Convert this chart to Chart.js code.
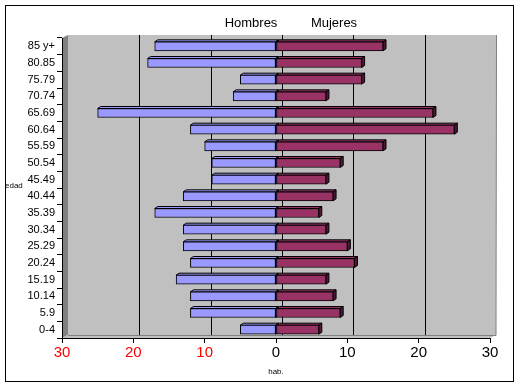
<!DOCTYPE html>
<html>
<head>
<meta charset="utf-8">
<script src="https://cdn.jsdelivr.net/npm/chart.js@4/dist/chart.umd.min.js"></script>
<style>
html,body{margin:0;padding:0;background:#fff;}
#wrap{width:520px;height:386px;position:relative;}
</style>
</head>
<body>
<div id="wrap"><canvas id="c" width="520" height="386"></canvas></div>
<script>
const categories = ["85 y+","80.85","75.79","70.74","65.69","60.64","55.59","50.54","45.49","40.44","35.39","30.34","25.29","20.24","15.19","10.14","5.9","0-4"];
const hombres = [-17,-18,-5,-6,-25,-12,-10,-9,-9,-13,-17,-13,-13,-12,-14,-12,-12,-5];
const mujeres = [15,12,12,7,22,25,15,9,7,8,6,7,10,11,7,8,9,6];
const xTicks = [-30,-20,-10,0,10,20,30];
const seriesNames = ["Hombres","Mujeres"];

const FONT = "'Liberation Sans', Arial, sans-serif";
const WALL_DX = 6, WALL_DY = -3;
const BAR_DX = 3, BAR_DY = -2;

const deco = {
  id:'deco',
  beforeDraw(chart){
    const ctx = chart.ctx, a = chart.chartArea;
    ctx.save();
    ctx.fillStyle = '#fff';
    ctx.fillRect(0,0,chart.width,chart.height);
    // back wall
    ctx.fillStyle = '#C0C0C0';
    ctx.fillRect(a.left+WALL_DX, a.top+WALL_DY, a.right-a.left, a.bottom-a.top);
    // left wall
    ctx.fillStyle = '#808080';
    ctx.beginPath();
    ctx.moveTo(a.left, a.top);
    ctx.lineTo(a.left+WALL_DX, a.top+WALL_DY);
    ctx.lineTo(a.left+WALL_DX, a.bottom+WALL_DY);
    ctx.lineTo(a.left, a.bottom);
    ctx.closePath(); ctx.fill();
    // floor
    ctx.fillStyle = '#C0C0C0';
    ctx.beginPath();
    ctx.moveTo(a.left, a.bottom);
    ctx.lineTo(a.left+WALL_DX, a.bottom+WALL_DY);
    ctx.lineTo(a.right+WALL_DX, a.bottom+WALL_DY);
    ctx.lineTo(a.right, a.bottom);
    ctx.closePath(); ctx.fill();
    ctx.strokeStyle = '#808080'; ctx.lineWidth = 1;
    ctx.beginPath();
    ctx.moveTo(a.left+WALL_DX, a.bottom+WALL_DY+0.5);
    ctx.lineTo(a.right+WALL_DX, a.bottom+WALL_DY+0.5);
    ctx.lineTo(a.right+WALL_DX+0.5, a.top+WALL_DY);
    ctx.stroke();
    // outer border
    ctx.strokeStyle = '#000';
    ctx.strokeRect(5.5,5.5,508,376);
    // legend texts
    ctx.fillStyle = '#000';
    ctx.font = '13px ' + FONT;
    ctx.textAlign = 'center'; ctx.textBaseline = 'middle';
    ctx.fillText(seriesNames[0], 251, 23);
    ctx.fillText(seriesNames[1], 334, 23);
    // y axis title
    ctx.font = '8px ' + FONT;
    ctx.textAlign = 'left';
    ctx.fillText('edad', 5, 186);
    ctx.restore();
  },
  beforeDatasetsDraw(chart){
    const ctx = chart.ctx, a = chart.chartArea, xs = chart.scales.x;
    ctx.save();
    ctx.strokeStyle = '#000'; ctx.lineWidth = 1;
    xTicks.forEach(v=>{
      if (v===-30 || v===30) return;
      const px = Math.round(xs.getPixelForValue(v)) + WALL_DX + 0.5;
      ctx.beginPath();
      ctx.moveTo(px, a.top+WALL_DY);
      ctx.lineTo(px, a.bottom+WALL_DY);
      ctx.stroke();
    });
    // 3D bar faces
    const faces = [
      {top:'#9999FF', side:'#4C4C80'},
      {top:'#993366', side:'#4C1933'}
    ];
    chart.data.datasets.forEach((ds,di)=>{
      const meta = chart.getDatasetMeta(di);
      meta.data.forEach(el=>{
        const l = Math.min(el.x, el.base), r = Math.max(el.x, el.base);
        const t = el.y - el.height/2, b = el.y + el.height/2;
        ctx.fillStyle = faces[di].top;
        ctx.strokeStyle = '#000';
        ctx.beginPath();
        ctx.moveTo(l,t); ctx.lineTo(l+BAR_DX,t+BAR_DY); ctx.lineTo(r+BAR_DX,t+BAR_DY); ctx.lineTo(r,t); ctx.closePath();
        ctx.fill(); ctx.stroke();
        ctx.fillStyle = faces[di].side;
        ctx.beginPath();
        ctx.moveTo(r,t); ctx.lineTo(r+BAR_DX,t+BAR_DY); ctx.lineTo(r+BAR_DX,b+BAR_DY); ctx.lineTo(r,b); ctx.closePath();
        ctx.fill(); ctx.stroke();
      });
    });
    ctx.restore();
  }
};

new Chart(document.getElementById('c'), {
  type:'bar',
  data:{
    labels: categories,
    datasets:[
      {label:seriesNames[0], data:hombres, backgroundColor:'#9999FF', borderColor:'#000', borderWidth:1, barThickness:9, borderSkipped:false},
      {label:seriesNames[1], data:mujeres, backgroundColor:'#993366', borderColor:'#000', borderWidth:1, barThickness:9, borderSkipped:false}
    ]
  },
  options:{
    indexAxis:'y',
    responsive:false,
    animation:false,
    layout:{padding:{top:38, right:30, left:0, bottom:0}},
    plugins:{legend:{display:false}, tooltip:{enabled:false}},
    scales:{
      x:{
        stacked:true, min:-30, max:30,
        afterBuildTicks(s){ s.ticks = xTicks.map(v=>({value:v})); },
        afterFit(s){ s.height = 48; },
        grid:{drawOnChartArea:false, tickLength:5, color:'#000'},
        border:{color:'#000', width:1},
        ticks:{
          font:{family:FONT, size:15},
          color:(c)=> (c.tick && c.tick.value < 0) ? '#FF0000' : '#000',
          padding:1,
          maxRotation:0,
          callback:(v)=> Math.abs(v)
        },
        title:{display:true, text:'hab.', font:{family:FONT, size:8}, color:'#000', padding:{top:0, bottom:9}}
      },
      y:{
        stacked:true,
        afterFit(s){ s.width = 62; },
        grid:{drawOnChartArea:false, offset:true, tickLength:5, color:'#000'},
        border:{color:'#000', width:1},
        ticks:{font:{family:FONT, size:11}, color:'#000', padding:2, autoSkip:false}
      }
    }
  },
  plugins:[deco]
});
</script>
</body>
</html>
